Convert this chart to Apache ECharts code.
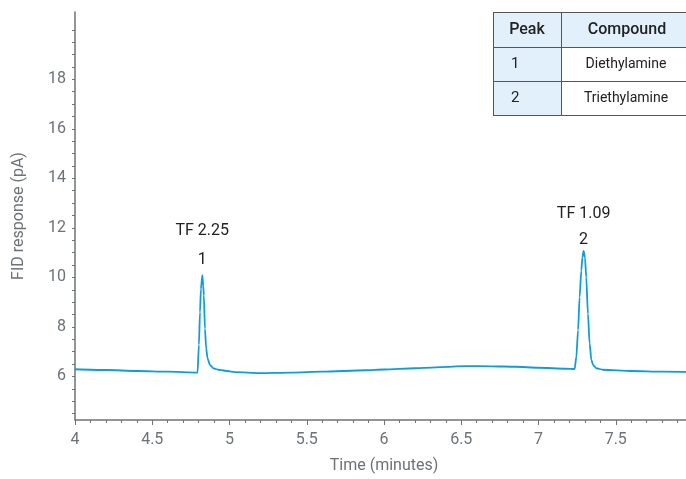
<!DOCTYPE html>
<html>
<head>
<meta charset="utf-8">
<script src="https://cdn.jsdelivr.net/npm/echarts@6/dist/echarts.min.js"></script>
<style>
    html, body { margin: 0; padding: 0; background: #fff; overflow: hidden; }
    /* a little wider than the window: the time axis runs on to 8 just off the right edge */
    #chart { width: 693px; height: 479px; }
</style>
</head>
<body>
<div id="chart"></div>
<script>
// chromatogram trace (time in minutes, response in pA)
const times = [
    4.00, 4.20, 4.40, 4.60, 4.793,
    4.802, 4.809, 4.815, 4.824, 4.830, 4.834, 4.841, 4.849, 4.858, 4.873, 4.895, 4.927, 4.970, 5.035,
    5.20, 5.40, 5.60, 5.88, 6.00, 6.20, 6.53, 6.70, 6.85, 7.00, 7.18, 7.234,
    7.245, 7.256, 7.266, 7.277, 7.284, 7.292, 7.301, 7.309, 7.320, 7.331, 7.342, 7.353, 7.374, 7.417,
    7.60, 7.80, 8.00
];
const responses = [
    6.29, 6.26, 6.22, 6.19, 6.15,
    7.27, 8.60, 9.53, 10.09, 9.67, 9.27, 7.93, 7.13, 6.73, 6.47, 6.33, 6.27, 6.23, 6.17,
    6.13, 6.15, 6.19, 6.25, 6.28, 6.33, 6.42, 6.41, 6.39, 6.35, 6.31, 6.30,
    6.80, 7.87, 9.20, 10.27, 10.80, 11.07, 10.80, 10.00, 8.53, 7.33, 6.67, 6.47, 6.33, 6.27,
    6.22, 6.19, 6.17
];

const peakTimes = [4.8236, 7.292];
const peakHeights = [10.09, 11.07];
const peakNames = ["1", "2"];
const tailingFactors = ["TF 2.25", "TF 1.09"];

const yLabelValues = [6, 8, 10, 12, 14, 16, 18];
const yTickValues = [4.5, 5, 5.5, 6, 6.5, 7, 7.5, 8, 8.5, 9, 9.5, 10, 10.5, 11, 11.5, 12,
    12.5, 13, 13.5, 14, 14.5, 15, 15.5, 16, 16.5, 17, 17.5, 18, 18.5, 19, 19.5, 20];

const tableHeader = ["Peak", "Compound"];
const tablePeaks = ["1", "2"];
const tableCompounds = ["Diethylamine", "Triethylamine"];

const font = "Roboto";
const axisColor = "#6d7277";
const traceColor = "#0c9ddc";
const cellBlue = "#e1f0fa";

// label gap above each apex and spacing between the two label lines
const labelGaps = [1, -2];
const labelLineHeights = [29, 26];

function buildTable() {
    const left = 493, mid = 561, right = 700;
    const rows = [12, 47, 81, 115];
    const out = [];
    const border = { stroke: "#555", lineWidth: 1 };

    // blue header row and blue first column
    out.push({ type: "rect", shape: { x: left, y: rows[0], width: right - left, height: rows[1] - rows[0] },
        style: { fill: cellBlue } });
    out.push({ type: "rect", shape: { x: left, y: rows[1], width: mid - left, height: rows[3] - rows[1] },
        style: { fill: cellBlue } });
    out.push({ type: "rect", shape: { x: mid, y: rows[1], width: right - mid, height: rows[3] - rows[1] },
        style: { fill: "#fff" } });

    rows.forEach(y => {
        out.push({ type: "line", shape: { x1: left, y1: y + 0.5, x2: right, y2: y + 0.5 }, style: border });
    });
    [left, mid].forEach(x => {
        out.push({ type: "line", shape: { x1: x + 0.5, y1: rows[0], x2: x + 0.5, y2: rows[3] }, style: border });
    });

    out.push({ type: "text", x: 527, y: (rows[0] + rows[1]) / 2,
        style: { text: tableHeader[0], font: "500 16px " + font, fill: "#222", align: "center", verticalAlign: "middle" } });
    out.push({ type: "text", x: 627, y: (rows[0] + rows[1]) / 2,
        style: { text: tableHeader[1], font: "500 16px " + font, fill: "#222", align: "center", verticalAlign: "middle" } });

    tablePeaks.forEach((p, i) => {
        const cy = (rows[i + 1] + rows[i + 2]) / 2;
        out.push({ type: "text", x: 511, y: cy,
            style: { text: p, font: "15px " + font, fill: "#222", align: "left", verticalAlign: "middle" } });
        out.push({ type: "text", x: 626, y: cy,
            style: { text: tableCompounds[i], font: "14px " + font, fill: "#222", align: "center", verticalAlign: "middle" } });
    });

    return out;
}

const chart = echarts.init(document.getElementById("chart"));

chart.setOption({
    animation: false,
    textStyle: { fontFamily: font },
    grid: { left: 75, right: 0, top: 12, bottom: 55, containLabel: false },
    xAxis: {
        type: "value",
        min: 4,
        max: 8,
        interval: 0.5,
        name: "Time (minutes)",
        nameLocation: "middle",
        nameGap: 38,
        nameTextStyle: { color: axisColor, fontSize: 16 },
        axisLine: { lineStyle: { color: axisColor, width: 1.5 } },
        axisTick: { length: 5, lineStyle: { color: axisColor } },
        minorTick: { show: true, splitNumber: 5, length: 3, lineStyle: { color: axisColor } },
        axisLabel: { color: axisColor, fontSize: 16, margin: 12, showMaxLabel: false },
        splitLine: { show: false }
    },
    yAxis: {
        type: "value",
        min: 4.24,
        max: 20.72,
        name: "FID response (pA)",
        nameLocation: "middle",
        nameGap: 48,
        nameTextStyle: { color: axisColor, fontSize: 16 },
        axisLine: { show: true, lineStyle: { color: axisColor, width: 1.5 } },
        axisTick: { show: true, length: 3, customValues: yTickValues, lineStyle: { color: axisColor } },
        axisLabel: { color: axisColor, fontSize: 16, margin: 9, customValues: yLabelValues },
        splitLine: { show: false }
    },
    series: [
        {
            type: "line",
            data: times.map((t, i) => [t, responses[i]]),
            showSymbol: false,
            smooth: 0.25,
            smoothMonotone: "x",
            lineStyle: { color: traceColor, width: 1.8 },
            markPoint: {
                symbol: "circle",
                symbolSize: 0,
                label: {
                    show: true,
                    position: "top",
                    fontSize: 16,
                    color: "#222",
                    formatter: p => p.name
                },
                data: peakTimes.map((t, i) => ({
                    name: tailingFactors[i] + "\n" + peakNames[i],
                    coord: [t, peakHeights[i]],
                    label: { distance: labelGaps[i], lineHeight: labelLineHeights[i] }
                }))
            }
        }
    ],
    graphic: buildTable()
});
</script>
</body>
</html>
